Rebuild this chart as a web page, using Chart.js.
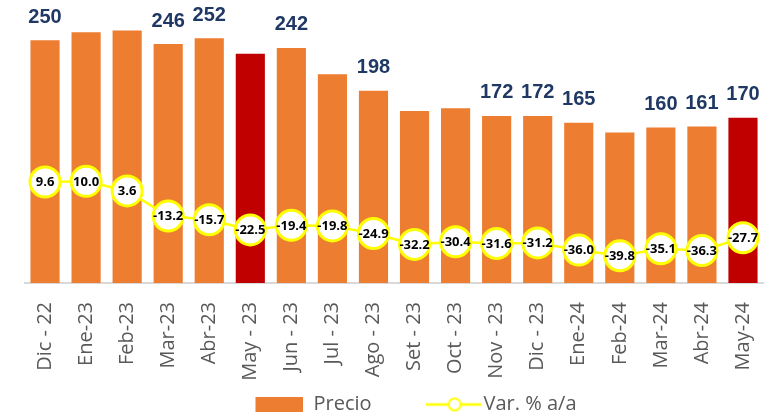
<!DOCTYPE html>
<html>
<head>
<meta charset="utf-8">
<script src="https://cdn.jsdelivr.net/npm/chart.js@4.4.1/dist/chart.umd.min.js"></script>
<style>
  html, body { margin: 0; padding: 0; background: #fff; }
  #wrap { width: 776px; height: 417px; }
</style>
</head>
<body>
<div id="wrap"><canvas id="precio-chart" width="776" height="417"></canvas></div>
<script>
// datos
const meses = ['Dic - 22', 'Ene-23', 'Feb-23', 'Mar-23', 'Abr-23', 'May - 23', 'Jun - 23', 'Jul - 23', 'Ago - 23',
  'Set - 23', 'Oct - 23', 'Nov - 23', 'Dic - 23', 'Ene-24', 'Feb-24', 'Mar-24', 'Abr-24', 'May-24'];
const precio = [250, 258, 260, 246, 252, 236, 242, 215, 198, 177, 180, 172, 172, 165, 155, 160, 161, 170];
const varAnual = [9.6, 10.0, 3.6, -13.2, -15.7, -22.5, -19.4, -19.8, -24.9, -32.2, -30.4, -31.6, -31.2, -36.0, -39.8, -35.1, -36.3, -27.7];
// etiquetas que aparecen sobre las barras (null = sin etiqueta)
const etiquetasPrecio = ['250', null, null, '246', '252', null, '242', null, '198', null, null, '172', '172', '165', null, '160', '161', '170'];
const mesesResaltados = ['May - 23', 'May-24'];

const NARANJA = '#ED7D31';
const ROJO = '#C00000';
const AMARILLO = '#FFFF00';
const GRIS_TEXTO = '#595959';

// muestras para la leyenda
function swatchBarra() {
  const c = document.createElement('canvas');
  c.width = 92; c.height = 15;
  const g = c.getContext('2d');
  g.fillStyle = NARANJA;
  g.fillRect(44, 0, 48, 15);
  return c;
}
function swatchLinea() {
  const c = document.createElement('canvas');
  c.width = 106; c.height = 16;
  const g = c.getContext('2d');
  g.strokeStyle = AMARILLO;
  g.lineWidth = 2.5;
  g.beginPath(); g.moveTo(51, 8); g.lineTo(106, 8); g.stroke();
  g.fillStyle = '#fff';
  g.lineWidth = 2;
  g.beginPath(); g.arc(80, 8, 6, 0, Math.PI * 2); g.fill(); g.stroke();
  return c;
}

const etiquetasPlugin = {
  id: 'etiquetas',
  afterDatasetsDraw(chart) {
    const ctx = chart.ctx;
    ctx.save();
    ctx.textAlign = 'center';
    ctx.textBaseline = 'middle';
    // valores sobre las barras
    const barras = chart.getDatasetMeta(0).data;
    ctx.font = 'bold 20px "Liberation Sans", Arial, sans-serif';
    ctx.fillStyle = '#1F3864';
    barras.forEach((bar, i) => {
      if (etiquetasPrecio[i]) ctx.fillText(etiquetasPrecio[i], bar.x, bar.y - 23);
    });
    // valores dentro de los circulos
    const puntos = chart.getDatasetMeta(1).data;
    ctx.font = 'bold 13px "Open Sans", sans-serif';
    ctx.fillStyle = '#000';
    puntos.forEach((p, i) => {
      ctx.fillText(varAnual[i].toFixed(1), p.x, p.y + 0.5);
    });
    ctx.restore();
  }
};

const ctx = document.getElementById('precio-chart');
new Chart(ctx, {
  data: {
    labels: meses,
    datasets: [{
      type: 'bar',
      label: 'Precio',
      data: precio,
      yAxisID: 'y',
      backgroundColor: meses.map(m => mesesResaltados.includes(m) ? ROJO : NARANJA),
      barPercentage: 0.71,
      categoryPercentage: 1,
      order: 1
    }, {
      type: 'line',
      label: 'Var. % a/a',
      data: varAnual,
      yAxisID: 'y1',
      borderColor: AMARILLO,
      borderWidth: 2.5,
      pointRadius: 15,
      pointBorderWidth: 3,
      pointBackgroundColor: '#fff',
      pointBorderColor: AMARILLO,
      tension: 0,
      order: 0
    }]
  },
  options: {
    responsive: false,
    animation: false,
    devicePixelRatio: 1,
    layout: { autoPadding: false, padding: { top: 11, left: 24.5, right: 12.5, bottom: -7.5 } },
    scales: {
      x: {
        grid: { display: true, drawOnChartArea: false, color: 'transparent', tickColor: 'transparent', tickLength: 16 },
        border: { display: true, color: '#D9D9D9', width: 2 },
        ticks: {
          color: GRIS_TEXTO,
          font: { family: '"Open Sans", sans-serif', size: 20 },
          minRotation: 90,
          maxRotation: 90,
          autoSkip: false,
          padding: 3
        },
        afterFit(scale) { scale.height = 101.5; }
      },
      y: { display: false, min: 0, max: 280 },
      y1: { display: false, position: 'right', min: -58, max: 124 }
    },
    plugins: {
      tooltip: { enabled: false },
      legend: {
        position: 'bottom',
        labels: {
          usePointStyle: true,
          pointStyleWidth: 92,
          padding: 10,
          color: GRIS_TEXTO,
          font: { family: '"Open Sans", sans-serif', size: 20 },
          generateLabels: chart => chart.data.datasets.map((ds, i) => ({
            text: ds.label,
            pointStyle: i === 0 ? swatchBarra() : swatchLinea(),
            fillStyle: 'transparent',
            strokeStyle: 'transparent',
            lineWidth: 0,
            fontColor: GRIS_TEXTO,
            hidden: false,
            datasetIndex: i
          }))
        }
      }
    }
  },
  plugins: [etiquetasPlugin]
});
</script>
</body>
</html>
